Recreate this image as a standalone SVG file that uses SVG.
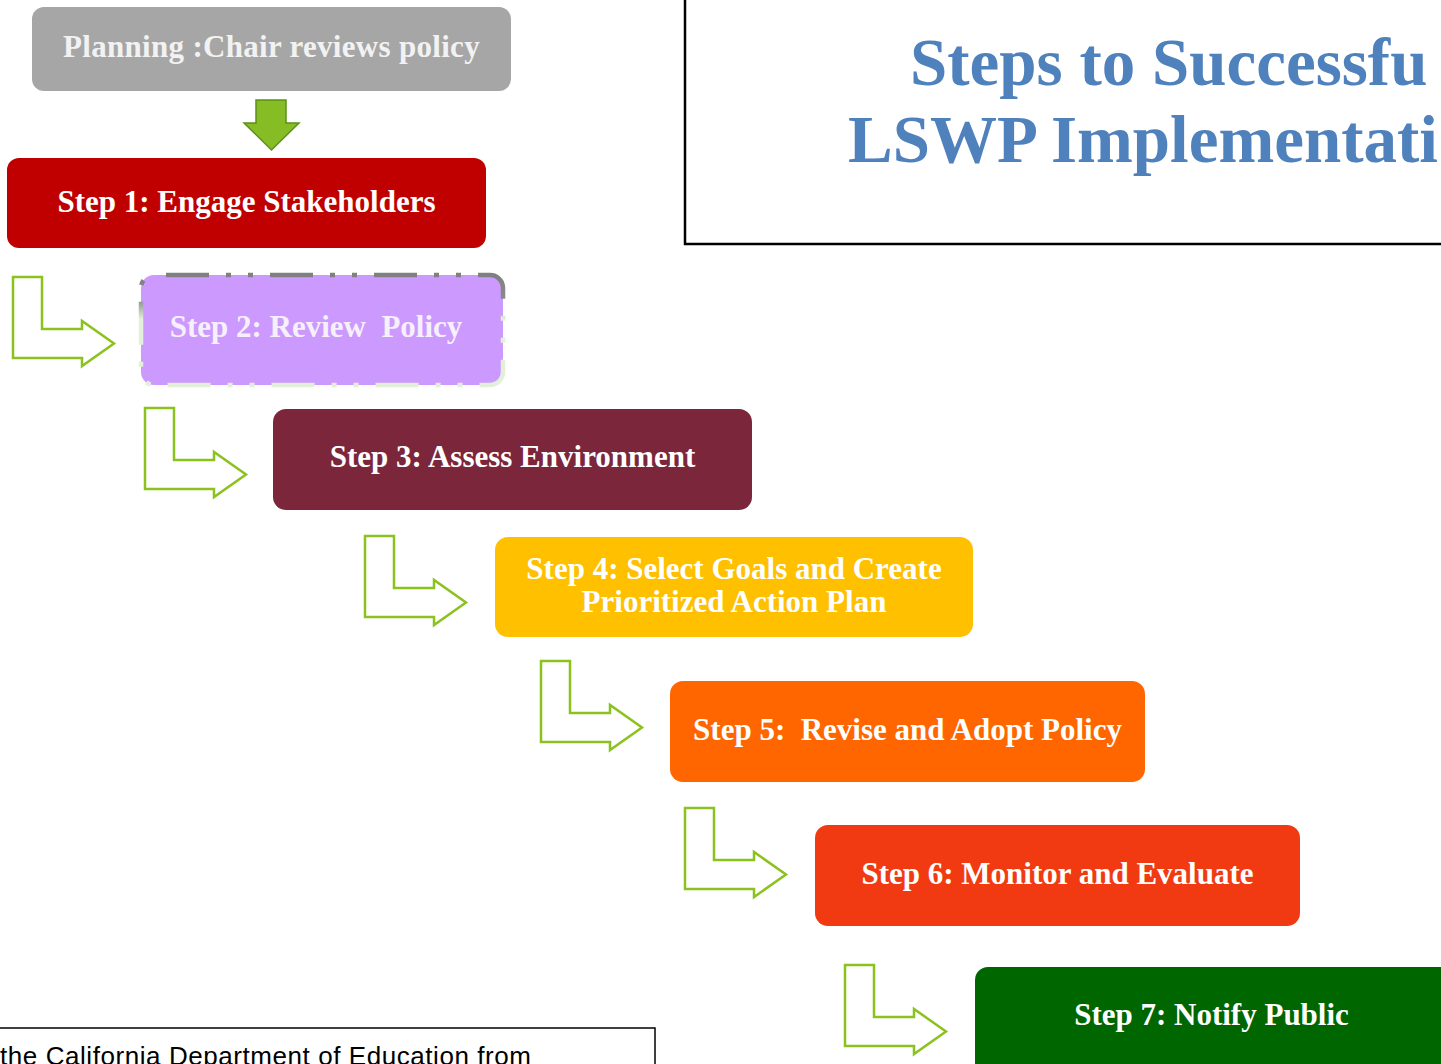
<svg xmlns="http://www.w3.org/2000/svg" width="1441" height="1064" viewBox="0 0 1441 1064">
<defs>
<style>
.lbl{font-family:"Liberation Serif",serif;font-weight:bold;font-size:31px;fill:#ffffff;text-anchor:middle;white-space:pre}
.bent{fill:#ffffff;stroke:#8cc21f;stroke-width:2.5;stroke-linejoin:miter}
.title{font-family:"Liberation Serif",serif;font-weight:bold;font-size:67px;fill:#4f81bd}
</style>
<linearGradient id="g2" x1="0" y1="0" x2="0" y2="1">
<stop offset="0" stop-color="#808080"/>
<stop offset="0.22" stop-color="#8a8a8a"/>
<stop offset="0.4" stop-color="#e2f0d9"/>
<stop offset="1" stop-color="#e2f0d9"/>
</linearGradient>
<path id="bentArrow" d="M0,0 L29,0 L29,52 L69,52 L69,44 L101,66.5 L69,89 L69,81 L0,81 Z"/>
</defs>
<rect width="1441" height="1064" fill="#ffffff"/>

<g id="title-box">
<rect x="685" y="-10" width="780" height="254" fill="#ffffff" stroke="#000000" stroke-width="2.5"/>
<text class="title" x="910" y="85">Steps to Successfu</text>
<text class="title" x="848" y="162">LSWP Implementati</text>
</g>

<g id="note-box">
<rect x="-3" y="1028" width="658" height="60" fill="#ffffff" stroke="#000000" stroke-width="1.5"/>
<text x="0" y="1065" font-family="'Liberation Sans',Arial,sans-serif" font-size="26" fill="#000000" textLength="531" lengthAdjust="spacing">the California Department of Education from</text>
</g>

<g id="connectors">
<path d="M256,100 L286,100 L286,123 L299,123 L271.5,150 L244,123 L256,123 Z" fill="#86bc24" stroke="#5f8f17" stroke-width="1.5"/>
<use href="#bentArrow" class="bent" x="13" y="277"/>
<use href="#bentArrow" class="bent" x="145" y="408"/>
<use href="#bentArrow" class="bent" x="365" y="536"/>
<use href="#bentArrow" class="bent" x="541" y="661"/>
<use href="#bentArrow" class="bent" x="685" y="808"/>
<use href="#bentArrow" class="bent" x="845" y="965"/>
</g>

<g id="planning">
<rect x="32" y="7" width="479" height="84" rx="12" fill="#a6a6a6"/>
<text class="lbl" x="271.5" y="57" style="fill:#f2f2f2;letter-spacing:0.3px">Planning :Chair reviews policy</text>
</g>

<g id="step1">
<rect x="7" y="158" width="479" height="90" rx="12" fill="#c00000"/>
<text class="lbl" x="246.5" y="212">Step 1: Engage Stakeholders</text>
</g>

<g id="step2">
<rect x="141" y="275" width="362" height="110" rx="13" fill="#cc99ff" stroke="url(#g2)" stroke-width="4.5" stroke-dasharray="43 17 5 17 5 17" stroke-dashoffset="-12"/>
<text class="lbl" x="316" y="337" style="fill:#f5f0fa">Step 2: Review  Policy</text>
</g>

<g id="step3">
<rect x="273" y="409" width="479" height="101" rx="13" fill="#7b263a"/>
<text class="lbl" x="512.5" y="467">Step 3: Assess Environment</text>
</g>

<g id="step4">
<rect x="495" y="537" width="478" height="100" rx="13" fill="#ffc000"/>
<text class="lbl" x="734" y="579">Step 4: Select Goals and Create</text>
<text class="lbl" x="734" y="612">Prioritized Action Plan</text>
</g>

<g id="step5">
<rect x="670" y="681" width="475" height="101" rx="13" fill="#ff6600"/>
<text class="lbl" x="907.5" y="740">Step 5:  Revise and Adopt Policy</text>
</g>

<g id="step6">
<rect x="815" y="825" width="485" height="101" rx="13" fill="#f23a12"/>
<text class="lbl" x="1057.5" y="884">Step 6: Monitor and Evaluate</text>
</g>

<g id="step7">
<rect x="975" y="967" width="478" height="110" rx="13" fill="#006600"/>
<text class="lbl" x="1211.5" y="1025">Step 7: Notify Public</text>
</g>
</svg>
